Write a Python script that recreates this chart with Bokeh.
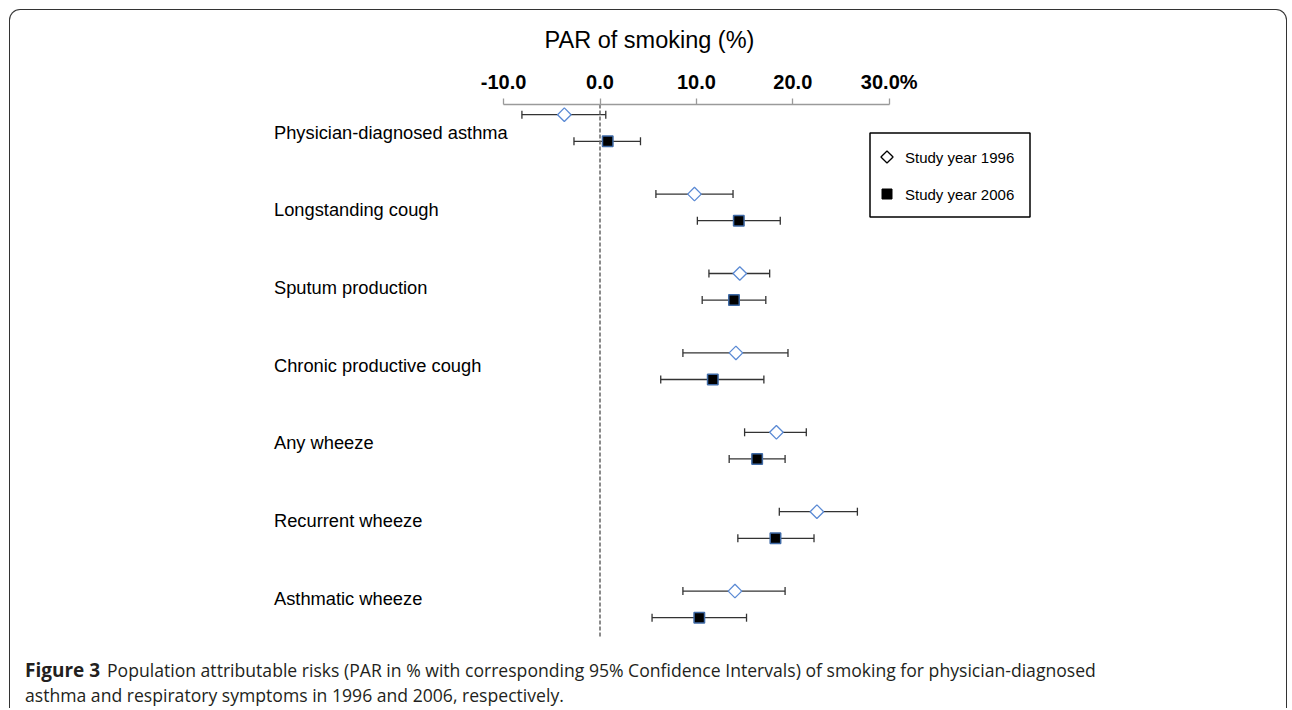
import numpy as np
from bokeh.plotting import figure
from bokeh.models import ColumnDataSource, Range1d, FixedTicker, Whisker, TeeHead
from bokeh.core.properties import value
from bokeh.embed import file_html
from bokeh.resources import INLINE

# ---------------- data ----------------
categories = ["Physician-diagnosed asthma", "Longstanding cough", "Sputum production",
              "Chronic productive cough", "Any wheeze", "Recurrent wheeze", "Asthmatic wheeze"]
par_1996 = [-3.7, 9.8, 14.5, 14.1, 18.3, 22.5, 14.0]
lo_1996 = [-8.1, 5.8, 11.3, 8.6, 15.0, 18.6, 8.6]
hi_1996 = [0.6, 13.8, 17.6, 19.5, 21.4, 26.7, 19.2]
par_2006 = [0.8, 14.4, 13.9, 11.7, 16.3, 18.2, 10.3]
lo_2006 = [-2.7, 10.1, 10.6, 6.3, 13.4, 14.3, 5.4]
hi_2006 = [4.2, 18.7, 17.2, 17.0, 19.2, 22.2, 15.2]
tick_values = [-10, 0, 10, 20, 30]
tick_labels = ["-10.0", "0.0", "10.0", "20.0", "30.0%"]
series_names = ["Study year 1996", "Study year 2006"]
axis_title = "PAR of smoking (%)"
caption_bold = "Figure 3"
caption_line1 = "Population attributable risks (PAR in % with corresponding 95% Confidence Intervals) of smoking for physician-diagnosed"
caption_line2 = "asthma and respiratory symptoms in 1996 and 2006, respectively."

# ---------------- layout ----------------
W, H = 1278, 699
TOP = 94
OFF = 10.5                 # page offset of canvas (css margin + border)
X0_PAGE, KX = 600.0, 9.64  # page x of value 0, px per unit
ROW0_PAGE, KY = 128.0, 79.4
PAIR = 13.3 / KY

def dx(px):
    return (px - X0_PAGE) / KX

def dy(py):
    return (py - ROW0_PAGE) / KY

n = len(categories)
idx = np.arange(n, dtype=float)

p = figure(width=W, height=H, output_backend="svg", toolbar_location=None,
           x_axis_location="above", y_axis_location=None,
           x_range=Range1d(dx(OFF), dx(OFF + W)),
           y_range=Range1d(dy(OFF + H), dy(OFF + TOP)),
           min_border_left=0, min_border_right=0, min_border_bottom=0, min_border_top=TOP)
p.styles = {"margin": "9px 0 0 9px",
            "border-top": "1.5px solid #333", "border-left": "1.5px solid #333",
            "border-right": "1.5px solid #333", "border-radius": "11px 11px 0 0"}
p.background_fill_color = None
p.border_fill_color = None
p.outline_line_color = None
p.xgrid.visible = False
p.ygrid.visible = False

ax = p.xaxis[0]
ax.ticker = FixedTicker(ticks=tick_values, minor_ticks=[])
ax.major_label_overrides = {v: l for v, l in zip(tick_values, tick_labels)}
ax.bounds = (tick_values[0], tick_values[-1])
ax.axis_line_color = "#9a9a9a"
ax.axis_line_width = 1.3
ax.major_tick_line_color = "#9a9a9a"
ax.major_tick_line_width = 1.3
ax.major_tick_out = 6
ax.major_tick_in = 0
ax.minor_tick_out = 0
ax.minor_tick_in = 0
ax.major_label_text_font = "Liberation Sans"
ax.major_label_text_font_style = "bold"
ax.major_label_text_font_size = "20px"
ax.major_label_text_color = "black"
ax.major_label_standoff = 6
ax.axis_label = axis_title
ax.axis_label_text_font = "Liberation Sans"
ax.axis_label_text_font_style = "normal"
ax.axis_label_text_font_size = "23.5px"
ax.axis_label_text_color = "black"
ax.axis_label_standoff = 15

# dashed zero line
p.segment(x0=[0], y0=[dy(OFF + TOP)], x1=[0], y1=[n - 1 + 0.42],
          line_color="#666666", line_width=1.5, line_dash="4 2")

src96 = ColumnDataSource(dict(x=par_1996, lo=lo_1996, hi=hi_1996, y=idx - PAIR))
src06 = ColumnDataSource(dict(x=par_2006, lo=lo_2006, hi=hi_2006, y=idx + PAIR))

for src in (src96, src06):
    p.add_layout(Whisker(source=src, base="y", lower="lo", upper="hi", dimension="width",
                         line_color="#333333", line_width=1.3,
                         upper_head=TeeHead(size=8, line_color="#333333", line_width=1.3),
                         lower_head=TeeHead(size=8, line_color="#333333", line_width=1.3)))

p.scatter("x", "y", source=src96, marker="square", angle=np.pi / 4, size=9.6,
          fill_color="white", line_color="#5b8ad4", line_width=1.3)
p.scatter("x", "y", source=src06, marker="square", size=10.5,
          fill_color="black", line_color="#3f6aa6", line_width=1.5)

# category labels
label_y = [dy(132 + 77.7 * i) for i in range(n)]
p.text(x=[dx(274)] * n, y=label_y, text=categories, text_font=value("Liberation Sans"),
       text_font_size=value("18.3px"), text_color="black", text_baseline="middle", text_align="left")

# legend
p.rect(x=[dx(950)], y=[dy(175)], width=160, height=84, width_units="screen", height_units="screen",
       fill_color="white", line_color="black", line_width=1.5)
p.scatter(x=[dx(887)], y=[dy(157)], marker="square", angle=np.pi / 4, size=8.6,
          fill_color="white", line_color="black", line_width=1.3)
p.scatter(x=[dx(887)], y=[dy(194)], marker="square", size=10,
          fill_color="black", line_color="black", line_width=1)
p.text(x=[dx(905)] * 2, y=[dy(157), dy(194)], text=series_names, text_font=value("Liberation Sans"),
       text_font_size=value("15px"), text_color="black", text_baseline="middle", text_align="left")

# caption
cap_font = value("Open Sans")
p.text(x=[dx(25)], y=[dy(670)], text=[caption_bold], text_font=cap_font, text_font_style="bold",
       text_font_size=value("19px"), text_color="#231f20", text_baseline="middle", text_align="left")
p.text(x=[dx(107)], y=[dy(670)], text=[caption_line1], text_font=cap_font,
       text_font_size=value("17.6px"), text_color="#231f20", text_baseline="middle", text_align="left")
p.text(x=[dx(25)], y=[dy(695)], text=[caption_line2], text_font=cap_font,
       text_font_size=value("17.6px"), text_color="#231f20", text_baseline="middle", text_align="left")

open("out.html", "w").write(file_html(p, INLINE))
